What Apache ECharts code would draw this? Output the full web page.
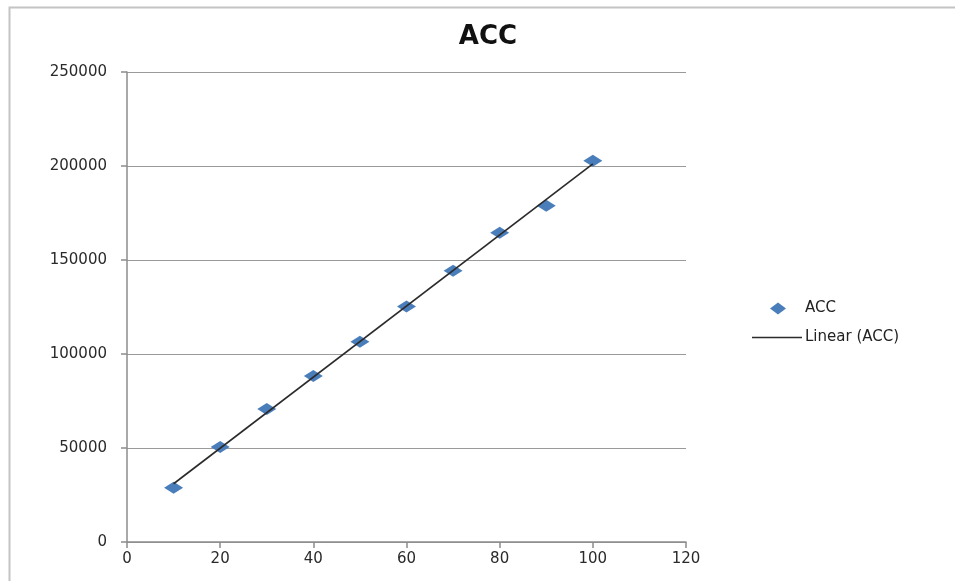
<!DOCTYPE html>
<html>
<head>
<meta charset="utf-8">
<script src="https://cdn.jsdelivr.net/npm/echarts@6/dist/echarts.min.js"></script>
<style>
  html, body { margin: 0; padding: 0; background: #fff; }
  #chart { width: 955px; height: 581px; }
</style>
</head>
<body>
<div id="chart"></div>
<script>
// Measured ACC values by load setting
const loads = [10, 20, 30, 40, 50, 60, 70, 80, 90, 100];
const accValues = [28900, 50500, 70700, 88300, 106500, 125200, 144300, 164500, 178900, 202800];
const xTicks = [0, 20, 40, 60, 80, 100, 120];
const yTicks = [0, 50000, 100000, 150000, 200000, 250000];

// Least-squares fit for the linear trendline
function linearFit(xs, ys) {
  const n = xs.length;
  let sx = 0, sy = 0, sxx = 0, sxy = 0;
  for (let i = 0; i < n; i++) {
    sx += xs[i]; sy += ys[i];
    sxx += xs[i] * xs[i]; sxy += xs[i] * ys[i];
  }
  const slope = (n * sxy - sx * sy) / (n * sxx - sx * sx);
  const intercept = (sy - slope * sx) / n;
  return { slope, intercept };
}
const fit = linearFit(loads, accValues);
const xFirst = loads[0], xLast = loads[loads.length - 1];
const trend = [
  [xFirst, fit.slope * xFirst + fit.intercept],
  [xLast, fit.slope * xLast + fit.intercept]
];

const font = '"DejaVu Sans", Verdana, sans-serif';
const chart = echarts.init(document.getElementById('chart'), null, { renderer: 'canvas' });
chart.setOption({
  backgroundColor: '#ffffff',
  animation: false,
  graphic: [{
    type: 'rect',
    left: 7, top: 5,
    shape: { width: 980, height: 600 },
    style: { fill: 'none', stroke: '#c4c4c4', lineWidth: 2 },
    silent: true
  }],
  title: {
    text: 'ACC',
    left: 483, top: 19,
    textAlign: 'center',
    textStyle: { fontFamily: font, fontWeight: 'bold', fontSize: 26, color: '#111' }
  },
  legend: [{
    data: [{ name: 'ACC', icon: 'diamond' }],
    left: 765, top: 296,
    itemWidth: 16, itemHeight: 12,
    textStyle: { fontFamily: font, fontSize: 15, color: '#222', padding: [0, 0, 0, 14] }
  }, {
    data: [{ name: 'Linear (ACC)', icon: 'rect' }],
    left: 747, top: 325,
    itemWidth: 50, itemHeight: 1.6,
    textStyle: { fontFamily: font, fontSize: 15, color: '#222', padding: [0, 0, 0, -2] }
  }],
  grid: { left: 127, right: 269, top: 72, bottom: 39, containLabel: false },
  xAxis: {
    type: 'value',
    min: xTicks[0], max: xTicks[xTicks.length - 1], interval: 20,
    axisLine: { show: true, lineStyle: { color: '#8c8c8c', width: 1.5 } },
    axisTick: { show: true, length: 6, lineStyle: { color: '#8c8c8c', width: 1.5 } },
    splitLine: { show: false },
    axisLabel: { fontFamily: font, fontSize: 15, color: '#2a2a2a', margin: 10 }
  },
  yAxis: {
    type: 'value',
    min: yTicks[0], max: yTicks[yTicks.length - 1], interval: 50000,
    axisLine: { show: true, lineStyle: { color: '#8c8c8c', width: 1.5 } },
    axisTick: { show: true, length: 6, lineStyle: { color: '#8c8c8c', width: 1.5 } },
    splitLine: { show: true, lineStyle: { color: '#9a9a9a', width: 1.2 } },
    axisLabel: {
      fontFamily: font, fontSize: 15, color: '#2a2a2a', margin: 20,
      formatter: (v) => String(v)
    }
  },
  series: [{
    name: 'ACC',
    type: 'scatter',
    symbol: 'diamond',
    symbolSize: [19, 12],
    itemStyle: { color: '#4a7ebb', opacity: 1 },
    data: loads.map((x, i) => [x, accValues[i]]),
    z: 3
  }, {
    name: 'Linear (ACC)',
    type: 'line',
    showSymbol: false,
    symbol: 'none',
    lineStyle: { color: '#2b2b2b', width: 1.6 },
    itemStyle: { color: '#2b2b2b' },
    data: trend,
    z: 4
  }]
});
</script>
</body>
</html>
